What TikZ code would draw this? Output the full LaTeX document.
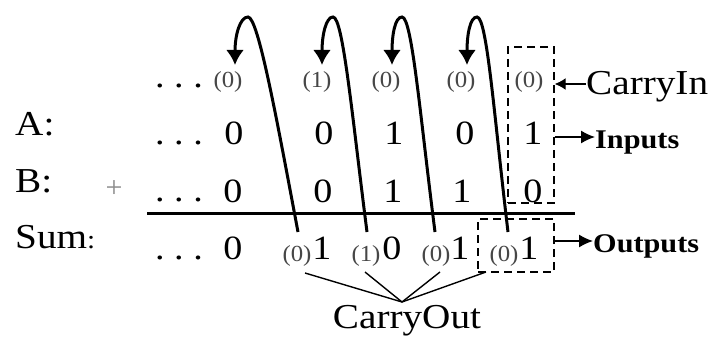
\documentclass[tikz,border=0pt]{standalone}
\usepackage{fontspec}
\setmainfont{Liberation Serif}
\usetikzlibrary{arrows.meta}
\definecolor{carrygray}{RGB}{70,70,70}
\tikzset{
  big/.style={font=\fontsize{34}{34}\selectfont, anchor=base, inner sep=0pt, xscale=1.12},
  lab/.style={font=\fontsize{35}{35}\selectfont, anchor=base, inner sep=0pt, xscale=1.12},
  bold/.style={font=\fontsize{27}{27}\selectfont\bfseries, anchor=base west, inner sep=0pt, xscale=1.12},
  small/.style={font=\fontsize{23}{23}\selectfont, text=carrygray, anchor=base, inner sep=0pt, xscale=1.08},
  carryarc/.style={line width=3pt, -{Latex[length=15pt,width=18pt]}},
  dashbox/.style={draw, dashed, dash pattern=on 8pt off 5pt, line width=1.4pt, inner sep=0pt},
  thin/.style={line width=1.4pt},
  smallarrow/.style={line width=1.4pt, -{Latex[length=11pt,width=12pt]}},
}
\begin{document}
\begin{tikzpicture}[x=1pt,y=-1pt]
\path[use as bounding box] (0,0) rectangle (712,337);

% left labels
\node[lab, anchor=base west] (la) at (15,135) {A:};
\node[lab, anchor=base west] (lb) at (15,192) {B:};
\node[lab, anchor=base west] (ls) at (15,248) {Sum{\fontsize{26}{26}\selectfont:}};
\node[font=\fontsize{30}{30}\selectfont, text=black!45, inner sep=0pt] (plus) at (114,189) {+};

% dots
\node[big] (d0) at (179,88) {.\ .\ .};
\node[big] (d1) at (179,144) {.\ .\ .};
\node[big] (d2) at (179,201) {.\ .\ .};
\node[big] (d3) at (179,259) {.\ .\ .};

% carry-in row
\node[small] (c1) at (228,88) {(0)};
\node[small] (c2) at (317,88) {(1)};
\node[small] (c3) at (386,88) {(0)};
\node[small] (c4) at (461,88) {(0)};
\node[small] (c5) at (529,88) {(0)};

% A row
\node[big] (a1) at (234,144) {0};
\node[big] (a2) at (324,144) {0};
\node[big] (a3) at (394,144) {1};
\node[big] (a4) at (465,144) {0};
\node[big] (a5) at (533,144) {1};

% B row
\node[big] (b1) at (233,202) {0};
\node[big] (b2) at (323,202) {0};
\node[big] (b3) at (393,202) {1};
\node[big] (b4) at (462,202) {1};
\node[big] (b5) at (533,202) {0};

% rule
\coordinate (r1) at (147,213);
\coordinate (r2) at (575,213);
\draw[line width=3pt] (r1) -- (r2);

% Sum row
\node[big] (s1) at (233,259) {0};
\node[small] (o2) at (297,261) {(0)};
\node[big] (s2) at (322,259) {1};
\node[small] (o3) at (366,261) {(1)};
\node[big] (s3) at (392,259) {0};
\node[small] (o4) at (436,261) {(0)};
\node[big] (s4) at (460,259) {1};
\node[small] (o5) at (504,261) {(0)};
\node[big] (s5) at (529,259) {1};

% carry arcs
\coordinate (f1) at (298,232); \coordinate (p1) at (248,17); \coordinate (t1) at (235,65);
\coordinate (f2) at (367,232); \coordinate (p2) at (333,17); \coordinate (t2) at (322,65);
\coordinate (f3) at (435,232); \coordinate (p3) at (402,17); \coordinate (t3) at (392,65);
\coordinate (f4) at (508,232); \coordinate (p4) at (477,17); \coordinate (t4) at (467,65);
\draw[carryarc] (f1) .. controls (276,115) and (258,17) .. (p1) .. controls (240,17) and (235,35) .. (t1);
\draw[carryarc] (f2) .. controls (352,115) and (343,17) .. (p2) .. controls (326,17) and (322,35) .. (t2);
\draw[carryarc] (f3) .. controls (420,115) and (412,17) .. (p3) .. controls (395,17) and (392,35) .. (t3);
\draw[carryarc] (f4) .. controls (494,115) and (487,17) .. (p4) .. controls (470,17) and (467,35) .. (t4);

% dashed boxes
\node[dashbox, minimum width=46pt, minimum height=156pt] (box1) at (531,125) {};
\node[dashbox, minimum width=76pt, minimum height=53pt] (box2) at (516,245.5) {};

% labels on the right
\node[lab, anchor=base west] (cin) at (586,95) {CarryIn};
\draw[smallarrow] (cin.west |- 0,84) -- (box1.east |- 0,84);
\node[bold] (inp) at (595,148) {Inputs};
\coordinate (ia) at (box1.east |- 0,137);
\draw[line width=1.4pt, -{Latex[length=14pt,width=13pt]}] (ia) -- (inp.west |- 0,137);
\node[bold] (outp) at (593,252) {Outputs};
\coordinate (oa) at (box2.east |- 0,241);
\draw[line width=1.4pt, -{Latex[length=14pt,width=13pt]}] (oa) -- (outp.west |- 0,241);

% carry out
\node[lab] (cout) at (407,328) {CarryOut};
\coordinate (cv) at (402,302);
\coordinate (e2) at (305,273);
\coordinate (e3) at (365,272);
\coordinate (e4) at (440,272);
\coordinate (e5) at (486,272);
\draw[thin] (e2) -- (cv);
\draw[thin] (e3) -- (cv);
\draw[thin] (e4) -- (cv);
\draw[thin] (e5) -- (cv);
\end{tikzpicture}
\end{document}
